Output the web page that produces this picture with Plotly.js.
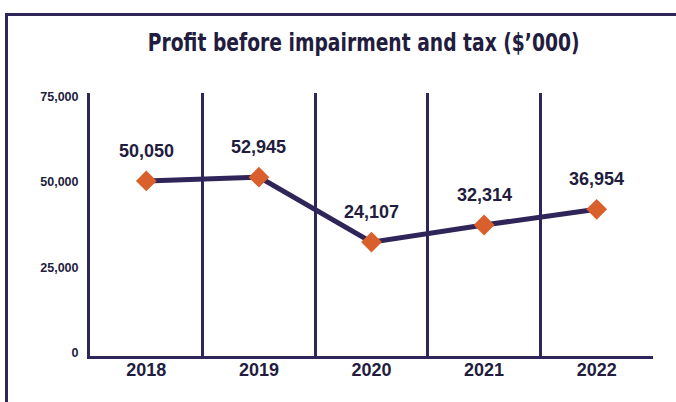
<!DOCTYPE html>
<html>
<head>
<meta charset="utf-8">
<script src="https://cdn.plot.ly/plotly-3.0.1.min.js"></script>
<style>
  html, body { margin: 0; padding: 0; background: #ffffff; }
  #chart { width: 676px; height: 402px; }
</style>
</head>
<body>
<div id="chart"></div>
<script>
// Data
const years = ['2018', '2019', '2020', '2021', '2022'];
const plottedValues = [50300, 51400, 32400, 37400, 42000];
const valueLabels = ['50,050', '52,945', '24,107', '32,314', '36,954'];
const yTickValues = [0, 25000, 50000, 75000];
const yTickLabels = ['0', '25,000', '50,000', '75,000'];

const purple = '#2f2559';
const textCol = '#221c3e';
const orange = '#d9602c';

const trace = {
  type: 'scatter',
  mode: 'lines+markers',
  x: years,
  y: plottedValues,
  line: { color: purple, width: 5 },
  marker: { symbol: 'diamond', size: 16, color: orange, line: { width: 0 } },
  hoverinfo: 'skip',
  cliponaxis: false
};

const annotations = valueLabels.map((lab, i) => ({
  x: i, y: plottedValues[i], xref: 'x', yref: 'y',
  text: '<b>' + lab + '</b>', showarrow: false, yshift: 30,
  xanchor: 'center', yanchor: 'middle',
  font: { family: 'Liberation Sans, Arial, sans-serif', size: 18, color: textCol }
}));

const layout = {
  width: 676, height: 402,
  margin: { l: 90, r: 23, t: 93, b: 46, pad: 0 },
  paper_bgcolor: '#ffffff', plot_bgcolor: '#ffffff',
  showlegend: false,
  title: {
    text: '<b>Profit before impairment and tax ($’000)</b>',
    x: 0.538, xanchor: 'center', y: 0.896, yanchor: 'middle',
    font: { family: 'DejaVu Sans Condensed, Liberation Sans, sans-serif', size: 25, color: textCol }
  },
  xaxis: {
    type: 'category', range: [-0.5, 4.5], fixedrange: true,
    tickson: 'boundaries', ticks: '', ticklen: 0,
    showgrid: true, gridcolor: purple, gridwidth: 3,
    showline: true, linecolor: purple, linewidth: 3,
    zeroline: false, automargin: false,
    tickfont: { family: 'Liberation Sans, Arial, sans-serif', size: 18, color: textCol, weight: 'bold' },
    ticklabelstandoff: -5
  },
  yaxis: {
    range: [-900, 76000], fixedrange: true,
    tickmode: 'array', tickvals: yTickValues, ticktext: yTickLabels,
    ticks: '', showgrid: false, zeroline: false,
    showline: true, linecolor: purple, linewidth: 3,
    automargin: false,
    tickfont: { family: 'Liberation Sans, Arial, sans-serif', size: 12.5, color: textCol, weight: 'bold' },
    ticklabelstandoff: 6
  },
  shapes: [{
    type: 'rect', xref: 'paper', yref: 'paper',
    x0: (6.5 - 90) / 563, x1: (690 - 90) / 563,
    y0: (356 - 420) / 263, y1: (356 - 14.5) / 263,
    line: { color: purple, width: 3 }, fillcolor: 'rgba(0,0,0,0)', layer: 'below'
  }],
  annotations: annotations
};

Plotly.newPlot('chart', [trace], layout, { staticPlot: true, displayModeBar: false }).then(function () {
  // Condense the title horizontally to match the narrow typeface of the reference
  const t = document.querySelector('.gtitle');
  if (t) {
    const bb = t.getBBox();
    const target = 432;
    const s = target / bb.width;
    const cx = bb.x + bb.width / 2;
    t.setAttribute('transform', 'translate(' + cx + ',0) scale(' + s + ',1) translate(' + (-cx) + ',0)');
  }
});
</script>
</body>
</html>
